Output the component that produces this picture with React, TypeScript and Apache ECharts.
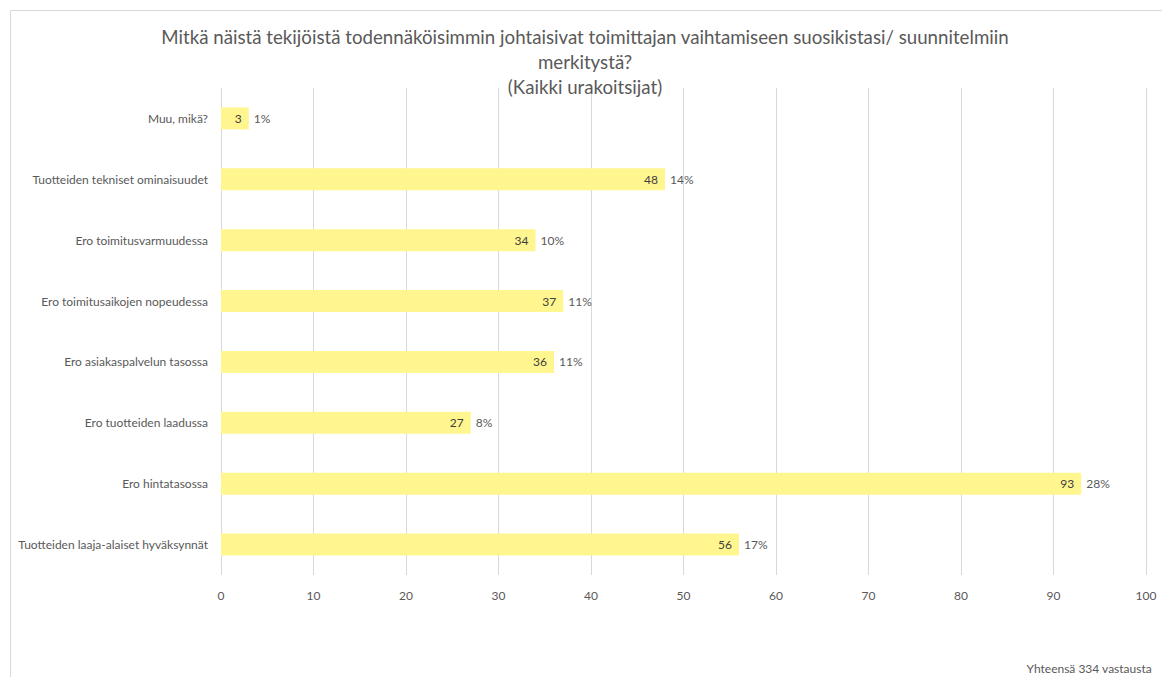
import React, { useEffect, useRef } from "react";
import * as echarts from "echarts";

const categories = [
  "Muu, mikä?",
  "Tuotteiden tekniset ominaisuudet",
  "Ero toimitusvarmuudessa",
  "Ero toimitusaikojen nopeudessa",
  "Ero asiakaspalvelun tasossa",
  "Ero tuotteiden laadussa",
  "Ero hintatasossa",
  "Tuotteiden laaja-alaiset hyväksynnät",
];
const values = [3, 48, 34, 37, 36, 27, 93, 56];
const percents = ["1%", "14%", "10%", "11%", "11%", "8%", "28%", "17%"];
const xTicks = { min: 0, max: 100, interval: 10 };
const titleText =
  "Mitkä näistä tekijöistä todennäköisimmin johtaisivat toimittajan vaihtamiseen suosikistasi/ suunnitelmiin\nmerkitystä?\n(Kaikki urakoitsijat)";
const footerText = "Yhteensä 334 vastausta";

const FONT = "Lato, 'Open Sans', sans-serif";

export default function App() {
  const ref = useRef<HTMLDivElement>(null);
  useEffect(() => {
    if (!ref.current) return;
    const chart = echarts.init(ref.current, undefined, { renderer: "svg" });
    chart.setOption({
      animation: false,
      backgroundColor: "#ffffff",
      graphic: [
        {
          type: "rect",
          left: 0,
          top: 0,
          shape: { width: 1153, height: 700 },
          style: { fill: "none", stroke: "#d9d9d9", lineWidth: 1 },
          silent: true,
        },
        {
          type: "text",
          x: 577,
          y: 16,
          z: 10,
          style: {
            text: titleText,
            font: `18.7px ${FONT}`,
            fill: "#595959",
            textAlign: "center",
            lineHeight: 25,
          },
        },
        {
          type: "text",
          right: 10,
          top: 654,
          style: {
            text: footerText,
            font: `12px ${FONT}`,
            fill: "#595959",
          },
        },
      ],
      grid: { left: 213, right: 16, top: 80, height: 487 },
      xAxis: {
        type: "value",
        min: xTicks.min,
        max: xTicks.max,
        interval: xTicks.interval,
        axisLine: { show: false },
        axisTick: { show: false },
        splitLine: { lineStyle: { color: "#d9d9d9", width: 1 } },
        axisLabel: { color: "#595959", fontSize: 12, fontFamily: FONT, margin: 14 },
      },
      yAxis: {
        type: "category",
        data: categories,
        inverse: true,
        axisLine: { show: false },
        axisTick: { show: false },
        axisLabel: { color: "#595959", fontSize: 12, fontFamily: FONT, margin: 13 },
      },
      series: [
        {
          type: "bar",
          data: values,
          barWidth: 22,
          itemStyle: { color: "#FFF68F" },
          label: {
            show: true,
            position: "insideRight",
            color: "#404040",
            fontSize: 12,
            fontFamily: FONT,
            distance: 7,
          },
          z: 2,
        },
        {
          type: "bar",
          data: values,
          barWidth: 22,
          barGap: "-100%",
          itemStyle: { color: "rgba(0,0,0,0)" },
          label: {
            show: true,
            position: "right",
            color: "#595959",
            fontSize: 12,
            fontFamily: FONT,
            distance: 5,
            formatter: (p: any) => percents[p.dataIndex],
          },
          z: 3,
        },
      ],
    });
    return () => chart.dispose();
  }, []);
  return <div ref={ref} style={{ width: 1154, height: 669 }} />;
}
